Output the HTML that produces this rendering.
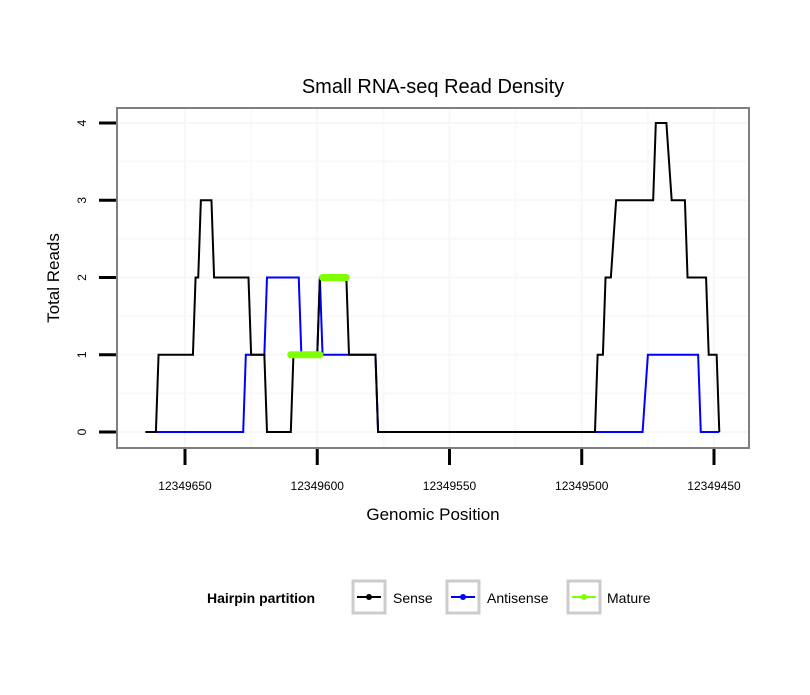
<!DOCTYPE html>
<html><head><meta charset="utf-8"><style>
body{margin:0;background:#fff;}
svg text{font-family:"Liberation Sans",Arial,sans-serif;}
</style></head><body>
<svg id="chart" width="810" height="690">
<rect width="810" height="690" fill="#fff"/>
<text x="433" y="93" font-size="20" text-anchor="middle">Small RNA-seq Read Density</text>
<g id="grid"></g>
<g id="series"></g>
<rect x="117" y="108" width="632" height="340" fill="none" stroke="#7f7f7f" stroke-width="2"/>
<g id="axes"></g>
<text x="433" y="520" font-size="17" text-anchor="middle">Genomic Position</text>
<text transform="translate(59,278) rotate(-90)" font-size="17" text-anchor="middle">Total Reads</text>
<g>
<text x="207" y="603" font-size="14" font-weight="bold">Hairpin partition</text>
<g>
<rect x="353" y="581" width="32" height="32" fill="#fff" stroke="#cccccc" stroke-width="3"/>
<line x1="357" y1="597" x2="381" y2="597" stroke="#000" stroke-width="2"/><circle cx="369" cy="597" r="3" fill="#000"/>
<text x="393" y="603" font-size="14">Sense</text></g>
<g>
<rect x="447" y="581" width="32" height="32" fill="#fff" stroke="#cccccc" stroke-width="3"/>
<line x1="451" y1="597" x2="475" y2="597" stroke="#0000ff" stroke-width="2"/><circle cx="463" cy="597" r="3" fill="#0000ff"/>
<text x="487" y="603" font-size="14">Antisense</text></g>
<g>
<rect x="568" y="581" width="32" height="32" fill="#fff" stroke="#cccccc" stroke-width="3"/>
<line x1="572" y1="597" x2="596" y2="597" stroke="#7fff00" stroke-width="2"/><circle cx="584" cy="597" r="3" fill="#7fff00"/>
<text x="607" y="603" font-size="14">Mature</text></g>
</g>
</svg>
<script>
const xTicks=[12349650,12349600,12349550,12349500,12349450];
const yTicks=[0,1,2,3,4];
const senseX=[12349665,12349661,12349660,12349647,12349646,12349645,12349644,12349640,12349639,12349626,12349625,12349620,12349619,12349610,12349609,12349600,12349599,12349589,12349588,12349578,12349577,12349495,12349494,12349492,12349491,12349489,12349487,12349473,12349472,12349468,12349466,12349461,12349460,12349453,12349452,12349449,12349448];
const senseY=[0,0,1,1,2,2,3,3,2,2,1,1,0,0,1,1,2,2,1,1,0,0,1,1,2,2,3,3,4,4,3,3,2,2,1,1,0];
const antiX=[12349661,12349628,12349627,12349620,12349619,12349607,12349606,12349600,12349599,12349598,12349578,12349577,12349477,12349475,12349456,12349455,12349448];
const antiY=[0,0,1,1,2,2,1,1,2,1,1,0,0,1,1,0,0];
const matureStart=[12349610,12349598];
const matureEnd=[12349599,12349589];
const matureY=[1,2];
const NS="http://www.w3.org/2000/svg";
const xs=v=>185+(12349650-v)*2.645;
const ys=v=>432-v*77.25;
function mk(t,a,p){const e=document.createElementNS(NS,t);for(const k in a)e.setAttribute(k,a[k]);p.appendChild(e);return e;}
const grid=document.getElementById('grid'),ser=document.getElementById('series'),ax=document.getElementById('axes');
yTicks.forEach((v,i)=>{
 const g=mk('line',{x1:117,x2:749,y1:ys(v),y2:ys(v),stroke:'#f7f7f7','stroke-width':2},grid);
 
 
 if(i<yTicks.length-1){const m=mk('line',{x1:117,x2:749,y1:ys(v+0.5),y2:ys(v+0.5),stroke:'#f9f9f9','stroke-width':2},grid);
 
 }
 const t=mk('line',{x1:99,x2:116,y1:ys(v),y2:ys(v),stroke:'#000','stroke-width':3},ax);
 
 
 const l=mk('text',{transform:`translate(86,${ys(v)}) rotate(-90)`,'font-size':12,'text-anchor':'middle'},ax);
 l.textContent=v;
 
 
});
xTicks.forEach((v,i)=>{
 const g=mk('line',{x1:xs(v),x2:xs(v),y1:108,y2:448,stroke:'#f7f7f7','stroke-width':2},grid);
 
 
 if(i<xTicks.length-1){const m=mk('line',{x1:xs(v-25),x2:xs(v-25),y1:108,y2:448,stroke:'#f9f9f9','stroke-width':2},grid);
 
 }
 const t=mk('line',{x1:xs(v),x2:xs(v),y1:449,y2:465,stroke:'#000','stroke-width':3},ax);
 
 
 const l=mk('text',{x:xs(v),y:490,'font-size':12,'text-anchor':'middle'},ax);
 l.textContent=v;
 
 
});
const pa=mk('polyline',{points:antiX.map((x,i)=>xs(x)+','+ys(antiY[i])).join(' '),fill:'none',stroke:'#0000ff','stroke-width':2},ser);


const ps=mk('polyline',{points:senseX.map((x,i)=>xs(x)+','+ys(senseY[i])).join(' '),fill:'none',stroke:'#000','stroke-width':2},ser);


matureStart.forEach((s,i)=>{
 const m=mk('line',{x1:xs(s),x2:xs(matureEnd[i]),y1:ys(matureY[i]),y2:ys(matureY[i]),stroke:'#7fff00','stroke-width':7,'stroke-linecap':'round'},ser);
 
 
});
</script>
</body></html>
